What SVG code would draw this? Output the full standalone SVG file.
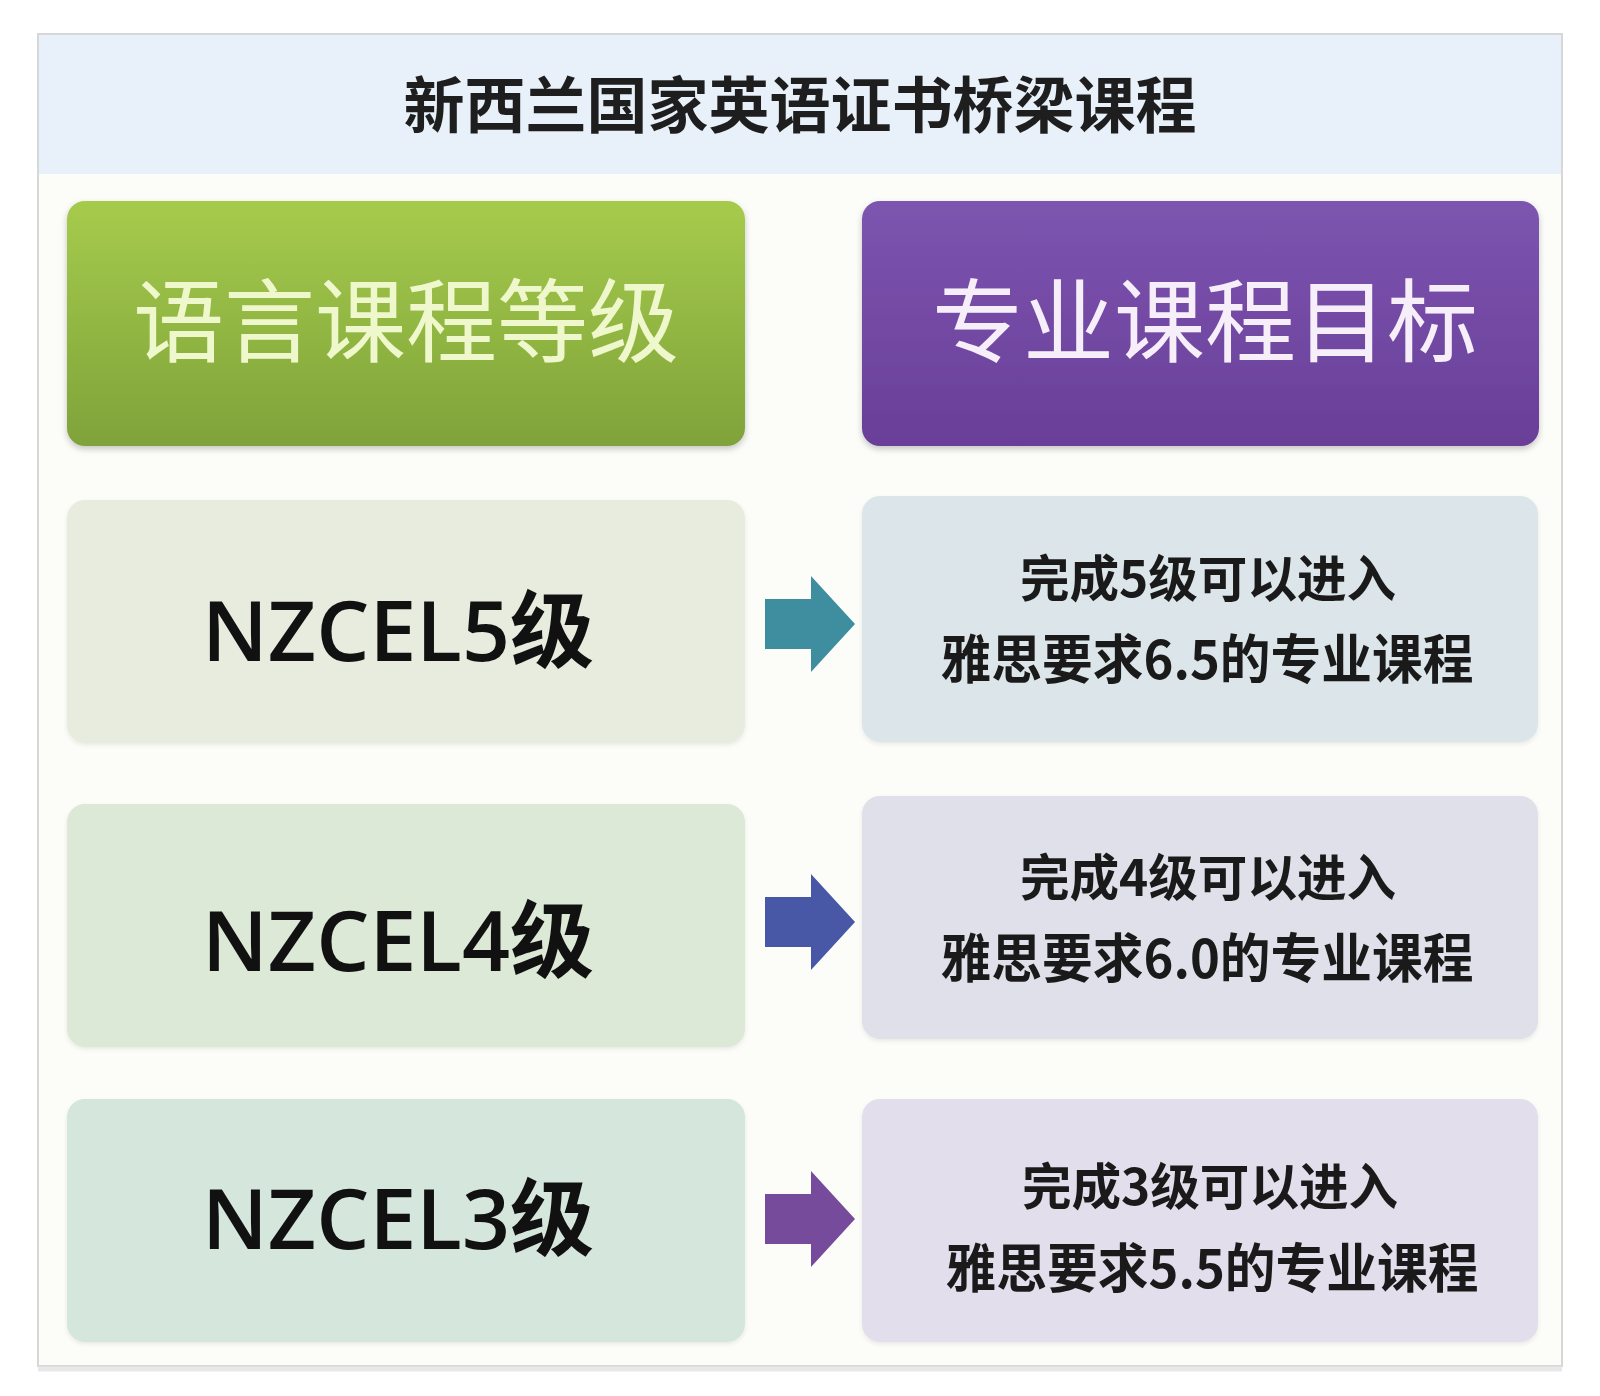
<svg xmlns="http://www.w3.org/2000/svg" width="1600" height="1396" viewBox="0 0 1600 1396">
  <defs>
    <linearGradient id="gGreen" x1="0" y1="0" x2="0" y2="1">
      <stop offset="0" stop-color="#a6cb4c"/>
      <stop offset="1" stop-color="#7fa33a"/>
    </linearGradient>
    <linearGradient id="gPurple" x1="0" y1="0" x2="0" y2="1">
      <stop offset="0" stop-color="#7c55b0"/>
      <stop offset="1" stop-color="#693e98"/>
    </linearGradient>
    <filter id="shadow" x="-5%" y="-5%" width="110%" height="115%">
      <feDropShadow dx="0" dy="3" stdDeviation="3" flood-color="#000" flood-opacity="0.22"/>
    </filter>
    <filter id="soft" x="-5%" y="-5%" width="110%" height="115%">
      <feDropShadow dx="0" dy="2" stdDeviation="2" flood-color="#000" flood-opacity="0.08"/>
    </filter>
    <path id="arrow" d="M0,-25 H46 V-48 L90,0 L46,48 V25 H0 Z"/>
  </defs>
  <style>
    .title { font-family: "Noto Sans CJK SC", "Noto Sans", sans-serif; font-weight: 700; font-size: 61px; fill: #1e1e1e; text-anchor: middle; }
    .head { font-family: "Noto Sans CJK SC", sans-serif; font-weight: 400; font-size: 91px; text-anchor: middle; }
    .level { font-family: "Open Sans", "Noto Sans CJK SC", sans-serif; font-weight: 600; font-size: 84px; fill: #111; text-anchor: middle; }
    .goal { font-family: "Noto Sans CJK SC", sans-serif; font-weight: 700; fill: #1a1a1a; text-anchor: middle; }
    .box { stroke: none; }
  </style>

  <rect width="1600" height="1396" fill="#ffffff"/>
  <!-- frame -->
  <rect x="38" y="34" width="1524" height="1332" fill="#fcfdf9" stroke="#d6d8d8" stroke-width="2"/>
  <rect x="39" y="35" width="1522" height="139" fill="#e8f1fa"/>
  <line x1="38" y1="1369" x2="1562" y2="1369" stroke="#e8e8e8" stroke-width="5"/>

  <g id="title">
    <text class="title" x="800" y="128">新西兰国家英语证书桥梁课程</text>
  </g>

  <g id="header-language">
    <rect x="67" y="201" width="678" height="245" rx="18" fill="url(#gGreen)" filter="url(#shadow)"/>
    <text class="head" x="406" y="355" fill="#eff8cc">语言课程等级</text>
  </g>
  <g id="header-major">
    <rect x="862" y="201" width="677" height="245" rx="18" fill="url(#gPurple)" filter="url(#shadow)"/>
    <text class="head" x="1205" y="355" fill="#f6eff9">专业课程目标</text>
  </g>

  <g id="level5">
    <rect class="box" x="67" y="500" width="678" height="243" rx="18" fill="#e8ecdf" filter="url(#soft)"/>
    <text class="level" x="398" y="661">NZCEL5级</text>
  </g>
  <g id="goal5">
    <rect class="box" x="862" y="496" width="676" height="246" rx="18" fill="#dce6ea" filter="url(#soft)"/>
    <text class="goal" x="1208" y="597" font-size="50" textLength="376" lengthAdjust="spacingAndGlyphs">完成5级可以进入</text>
    <text class="goal" x="1207" y="679" font-size="53" textLength="533" lengthAdjust="spacingAndGlyphs">雅思要求6.5的专业课程</text>
  </g>

  <g id="level4">
    <rect class="box" x="67" y="804" width="678" height="243" rx="18" fill="#dce9d6" filter="url(#soft)"/>
    <text class="level" x="398" y="971">NZCEL4级</text>
  </g>
  <g id="goal4">
    <rect class="box" x="862" y="796" width="676" height="243" rx="18" fill="#dfe0ea" filter="url(#soft)"/>
    <text class="goal" x="1208" y="896" font-size="50" textLength="376" lengthAdjust="spacingAndGlyphs">完成4级可以进入</text>
    <text class="goal" x="1207" y="978" font-size="53" textLength="533" lengthAdjust="spacingAndGlyphs">雅思要求6.0的专业课程</text>
  </g>

  <g id="level3">
    <rect class="box" x="67" y="1099" width="678" height="243" rx="18" fill="#d5e6dd" filter="url(#soft)"/>
    <text class="level" x="398" y="1249">NZCEL3级</text>
  </g>
  <g id="goal3">
    <rect class="box" x="862" y="1099" width="676" height="243" rx="18" fill="#e3deeb" filter="url(#soft)"/>
    <text class="goal" x="1210" y="1205" font-size="50" textLength="376" lengthAdjust="spacingAndGlyphs">完成3级可以进入</text>
    <text class="goal" x="1212" y="1288" font-size="53" textLength="533" lengthAdjust="spacingAndGlyphs">雅思要求5.5的专业课程</text>
  </g>

  <g id="connectors">
    <use href="#arrow" x="765" y="624" fill="#3f8e9f"/>
    <use href="#arrow" x="765" y="922" fill="#4857a6"/>
    <use href="#arrow" x="765" y="1219" fill="#774b9c"/>
  </g>
</svg>
